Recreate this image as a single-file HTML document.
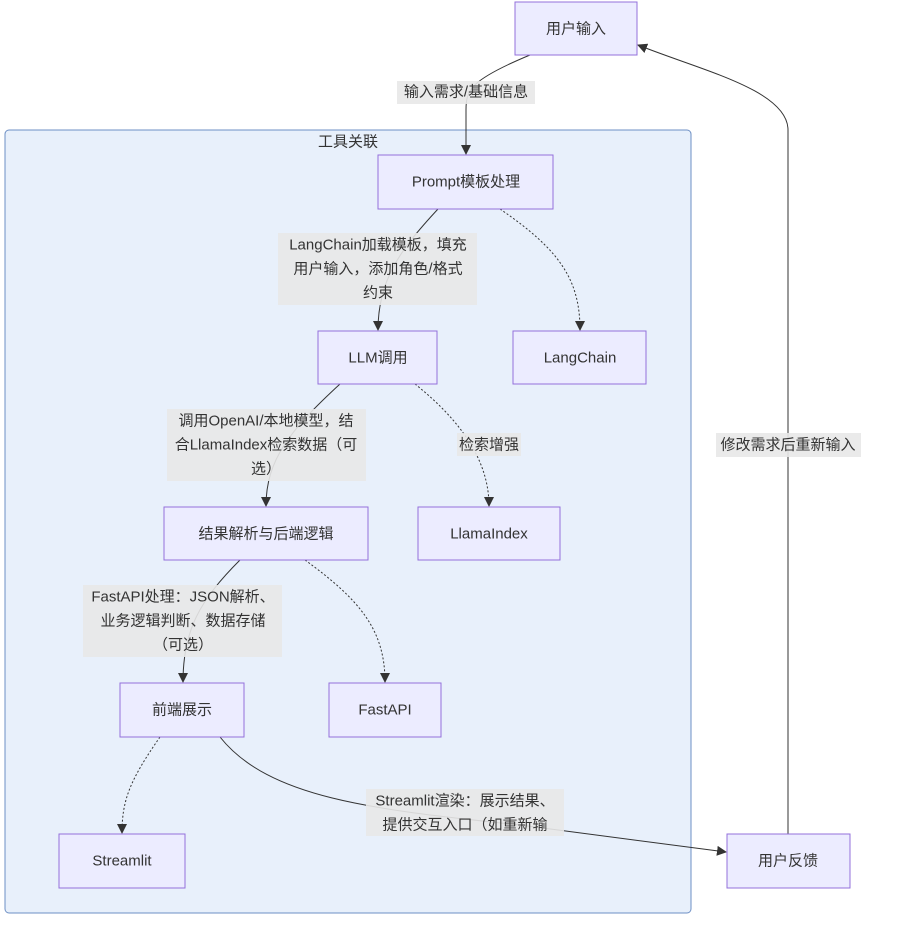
<!DOCTYPE html>
<html><head><meta charset="utf-8"><style>
body{margin:0;background:#fff}
text{font-family:"Liberation Sans","Noto Sans CJK SC",sans-serif;font-size:15px;fill:#333;text-anchor:middle;dominant-baseline:central}
.n{fill:#ececff;stroke:#9370db;stroke-width:1}
.l{fill:#e8e8e8;opacity:0.9}
.e{fill:none;stroke:#333;stroke-width:1}
.d{fill:none;stroke:#333;stroke-width:1;stroke-dasharray:2 2}
</style></head><body>
<svg width="920" height="938" xmlns="http://www.w3.org/2000/svg">
<defs><marker id="a" viewBox="0 0 10 10" refX="9" refY="5" markerWidth="10" markerHeight="10" orient="auto"><path d="M0,0L10,5L0,10z" fill="#333"/></marker></defs>
<rect x="5" y="130" width="686" height="783" rx="4" fill="#e8f0fb" stroke="#6d8fc4"/>
<text x="348" y="142">工具关联</text>
<path class="e" d="M530,55 C470,80 466,90 466,110 L466,154" marker-end="url(#a)"/>
<path class="e" d="M788,834 L788,130 C788,90 700,70 638,45" marker-end="url(#a)"/>
<path class="e" d="M438,209 C400,250 378,280 378,330" marker-end="url(#a)"/>
<path class="d" d="M500,209 C560,250 580,280 580,330" marker-end="url(#a)"/>
<path class="e" d="M340,384 C290,430 266,460 266,506" marker-end="url(#a)"/>
<path class="d" d="M415,384 C460,420 489,460 489,506" marker-end="url(#a)"/>
<path class="e" d="M240,560 C200,600 183,630 183,682" marker-end="url(#a)"/>
<path class="d" d="M305,560 C360,600 385,630 385,682" marker-end="url(#a)"/>
<path class="d" d="M160,737 C130,780 122,800 122,833" marker-end="url(#a)"/>
<path class="e" d="M220,737 C270,800 380,810 520,825 L726,852" marker-end="url(#a)"/>
<rect class="l" x="397" y="81" width="138" height="23"/><text x="466" y="92">输入需求/基础信息</text>
<rect class="l" x="716" y="433" width="145" height="24"/><text x="788" y="445">修改需求后重新输入</text>
<rect class="l" x="278" y="233" width="199" height="72"/><text x="378" y="245">LangChain加载模板，填充</text><text x="378" y="269">用户输入，添加角色/格式</text><text x="378" y="293">约束</text>
<rect class="l" x="457" y="433" width="64" height="23"/><text x="489" y="445">检索增强</text>
<rect class="l" x="167" y="409" width="199" height="72"/><text x="266" y="421">调用OpenAI/本地模型，结</text><text x="266" y="445">合LlamaIndex检索数据（可</text><text x="266" y="469">选）</text>
<rect class="l" x="83" y="585" width="199" height="72"/><text x="183" y="597">FastAPI处理：JSON解析、</text><text x="183" y="621">业务逻辑判断、数据存储</text><text x="183" y="645">（可选）</text>
<rect class="l" x="366" y="789" width="198" height="47"/><text x="465" y="801">Streamlit渲染：展示结果、</text><text x="465" y="825">提供交互入口（如重新输</text>
<rect class="n" x="515" y="2" width="122" height="53"/><text x="576" y="29">用户输入</text>
<rect class="n" x="378" y="155" width="175" height="54"/><text x="466" y="182">Prompt模板处理</text>
<rect class="n" x="318" y="331" width="119" height="53"/><text x="378" y="358">LLM调用</text>
<rect class="n" x="513" y="331" width="133" height="53"/><text x="580" y="358">LangChain</text>
<rect class="n" x="164" y="507" width="204" height="53"/><text x="266" y="534">结果解析与后端逻辑</text>
<rect class="n" x="418" y="507" width="142" height="53"/><text x="489" y="534">LlamaIndex</text>
<rect class="n" x="120" y="683" width="124" height="54"/><text x="182" y="710">前端展示</text>
<rect class="n" x="329" y="683" width="112" height="54"/><text x="385" y="710">FastAPI</text>
<rect class="n" x="59" y="834" width="126" height="54"/><text x="122" y="861">Streamlit</text>
<rect class="n" x="727" y="834" width="123" height="54"/><text x="788" y="861">用户反馈</text>
</svg>
</body></html>
